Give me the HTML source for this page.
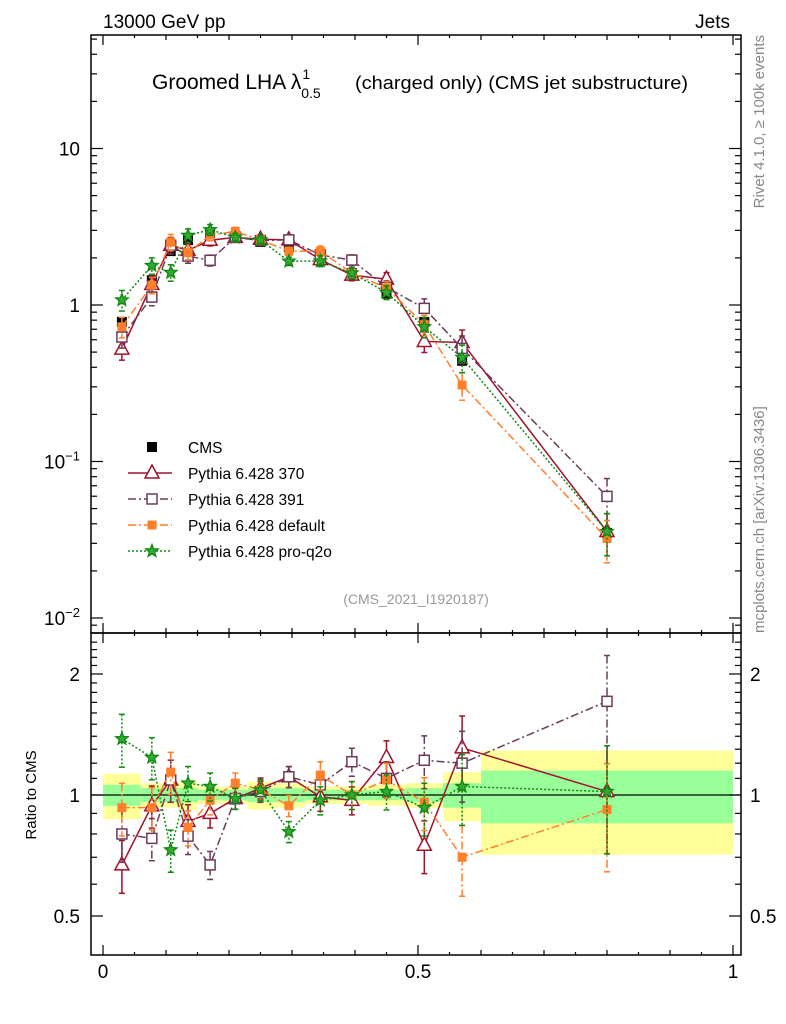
<!DOCTYPE html>
<html><head><meta charset="utf-8"><style>
body{margin:0;background:#fff;}
svg{display:block;font-family:"Liberation Sans",sans-serif;}
</style></head><body>
<svg id="c" width="786" height="1024" xmlns="http://www.w3.org/2000/svg">
<text x="103" y="28" font-size="19">13000 GeV pp</text>
<text x="730" y="28" font-size="19" text-anchor="end">Jets</text>
<text transform="translate(764,35) rotate(-90)" font-size="15" fill="#888" text-anchor="end">Rivet 4.1.0, ≥ 100k events</text>
<text transform="translate(764,633) rotate(-90)" font-size="15" fill="#888">mcplots.cern.ch [arXiv:1306.3436]</text>
<text x="152" y="89" font-size="21">Groomed LHA λ<tspan font-size="14" dy="-10" dx="1">1</tspan><tspan font-size="14" dy="19" dx="-9">0.5</tspan><tspan x="355" dy="-9" font-size="18" textLength="333" lengthAdjust="spacingAndGlyphs">(charged only) (CMS jet substructure)</tspan></text>
<text x="416" y="604" font-size="14" fill="#999" text-anchor="middle">(CMS_2021_I1920187)</text>
<text transform="translate(36,795) rotate(-90)" font-size="15" text-anchor="middle">Ratio to CMS</text>
<g id="bands"></g><g id="axes"></g><g id="marks"></g><g id="legend"></g>
</svg>
<script>
const edges=[0,0.06,0.095,0.12,0.15,0.19,0.23,0.27,0.32,0.37,0.42,0.48,0.54,0.6,1];
const xc=[0.03,0.0775,0.1075,0.135,0.17,0.21,0.25,0.295,0.345,0.395,0.45,0.51,0.57,0.8];
const cms=[0.78,1.44,2.21,2.6,2.88,2.76,2.53,2.35,1.97,1.6,1.18,0.78,0.44,0.035];
const bandY=[0.13,0.07,0.07,0.08,0.05,0.05,0.08,0.07,0.05,0.05,0.06,0.07,0.14,0.29];
const bandG=[0.06,0.04,0.04,0.04,0.03,0.03,0.04,0.04,0.03,0.03,0.03,0.04,0.07,0.15];
const r370=[0.67,0.94,1.09,0.86,0.90,0.98,1.04,1.11,0.99,0.97,1.24,0.75,1.31,1.02];
const r391=[0.80,0.78,1.09,0.79,0.67,0.98,1.02,1.11,1.06,1.21,1.10,1.22,1.20,1.71];
const rdef=[0.93,0.93,1.14,0.83,0.97,1.07,1.03,0.94,1.12,1.00,1.09,0.96,0.70,0.92];
const rq2o=[1.38,1.24,0.73,1.07,1.05,0.98,1.03,0.81,0.97,1.00,1.02,0.93,1.05,1.02];
const errM=[0.15,0.12,0.12,0.1,0.08,0.06,0.06,0.06,0.08,0.08,0.1,0.15,0.2,0.3];
const v370=cms.map((c,i)=>c*r370[i]),v391=cms.map((c,i)=>c*r391[i]),vdef=cms.map((c,i)=>c*rdef[i]),vq2o=cms.map((c,i)=>c*rq2o[i]);
const NS="http://www.w3.org/2000/svg";
const X=x=>103+630*x, Y=v=>305-156.5*Math.log10(v), R=r=>795-402*Math.log10(r);
function el(p,t,a){const e=document.createElementNS(NS,t);for(const k in a)e.setAttribute(k,a[k]);document.getElementById(p).appendChild(e);return e;}
for(let i=0;i<xc.length;i++){
 let b=el('bands','rect',{x:X(edges[i]),y:R(1+bandY[i]),width:X(edges[i+1])-X(edges[i]),height:R(1-bandY[i])-R(1+bandY[i]),fill:'#ffff99'});
 
 
 let g=el('bands','rect',{x:X(edges[i]),y:R(1+bandG[i]),width:X(edges[i+1])-X(edges[i]),height:R(1-bandG[i])-R(1+bandG[i]),fill:'#99ff99'});
 
 
}
el('axes','line',{x1:91,x2:741,y1:795,y2:795,stroke:'#000','stroke-width':1.2});
for(const [y1,y2] of [[35,633],[633,955]]){el('axes','rect',{x:91,y:y1,width:650,height:y2-y1,fill:'none',stroke:'#000','stroke-width':1.5});}
function tick(x1,y1,x2,y2){el('axes','line',{x1,y1,x2,y2,stroke:'#000','stroke-width':1.2});}
for(let d=-3;d<=1;d++)for(let m=1;m<10;m++){const v=m*Math.pow(10,d),y=Y(v);if(y<35||y>633)continue;const L=m==1?12:6;tick(91,y,91+L,y);tick(741,y,741-L,y);}
[[10,'10'],[1,'1']].forEach(([v,t])=>{let e=el('axes','text',{x:80,y:Y(v)+7,'font-size':19,'text-anchor':'end'});e.textContent=t;});
[[0.1,'−1'],[0.01,'−2']].forEach(([v,t])=>{let e=el('axes','text',{x:80,y:Y(v)+7,'font-size':19,'text-anchor':'end'});e.innerHTML='10<tspan font-size="13" dy="-8">'+t+'</tspan>';});
for(let k=5;k<=24;k++){const r=k/10,y=R(r);if(y<633)continue;const L=(k==5||k==10||k==20)?12:6;tick(91,y,91+L,y);tick(741,y,741-L,y);}
[[2,'2'],[1,'1'],[0.5,'0.5']].forEach(([r,t])=>{let e=el('axes','text',{x:80,y:R(r)+7,'font-size':19,'text-anchor':'end'});e.textContent=t;let f=el('axes','text',{x:750,y:R(r)+7,'font-size':19});f.textContent=t;});
for(let k=0;k<=20;k++){const x=X(k*0.05);const L=k%10==0?10:(k%2==0?5:3);for(const [yb,s] of [[955,-1],[633,-1],[633,1],[35,1]]){tick(x,yb,x,yb+s*L);}}
[[0,'0'],[0.5,'0.5'],[1,'1']].forEach(([v,t])=>{let e=el('axes','text',{x:X(v),y:978,'font-size':19,'text-anchor':'middle'});e.textContent=t;});
function marker(g,type,x,y,col){
 if(type=='sq')el(g,'rect',{x:x-5,y:y-5,width:10,height:10,fill:'#000'});
 else if(type=='tri')el(g,'polygon',{points:`${x},${y-8} ${x-7},${y+5} ${x+7},${y+5}`,fill:'#fff',stroke:col,'stroke-width':1.5});
 else if(type=='osq')el(g,'rect',{x:x-5,y:y-5,width:10,height:10,fill:'#fff',stroke:col,'stroke-width':1.5});
 else if(type=='fsq')el(g,'rect',{x:x-4.5,y:y-4.5,width:9,height:9,fill:col});
 else if(type=='star'){let p=[];for(let i=0;i<10;i++){const a=-Math.PI/2+i*Math.PI/5,rr=i%2?2.8:6.5;p.push((x+rr*Math.cos(a))+','+(y+rr*Math.sin(a)));}el(g,'polygon',{points:p.join(' '),fill:'#3a3',stroke:col,'stroke-width':1.3});}
}
const series=[
 {n:'cms',vals:cms,rat:cms.map(()=>1),col:'#000',mk:'sq',dash:null,err:cms.map(()=>0.04),line:false},
 {n:'pythia-370',vals:v370,rat:r370,col:'#a0112b',mk:'tri',dash:'none',err:errM},
 {n:'pythia-391',vals:v391,rat:r391,col:'#6b3a5a',mk:'osq',dash:'8,3,2,3',err:errM},
 {n:'pythia-default',vals:vdef,rat:rdef,col:'#ff7f2a',mk:'fsq',dash:'8,3,2,3',err:errM},
 {n:'pythia-pro-q2o',vals:vq2o,rat:rq2o,col:'#118811',mk:'star',dash:'2,2',err:errM}];
series.forEach(s=>{
 const g=el('marks','g',{});g.id='g-'+s.n;
 
 
 const dashed=s.dash&&s.dash!='none';
 const draw=(F,arr,isR)=>{
  if(s.line!==false){const pts=arr.map((v,i)=>X(xc[i])+','+F(v)).join(' ');const pl=el(g.id,'polyline',{points:pts,fill:'none',stroke:s.col,'stroke-width':1.5});if(dashed)pl.setAttribute('stroke-dasharray',s.dash);}
  arr.forEach((v,i)=>{if(isR&&s.n=='cms')return;const e=s.err[i];const x=X(xc[i]);const a=F(v*(1+e)),b=F(v*(1-e));const eb=el(g.id,'line',{x1:x,x2:x,y1:a,y2:b,stroke:s.col,'stroke-width':1.5});if(dashed)eb.setAttribute('stroke-dasharray',s.dash);if(s.n!='cms'){el(g.id,'line',{x1:x-3,x2:x+3,y1:a,y2:a,stroke:s.col,'stroke-width':1.5});el(g.id,'line',{x1:x-3,x2:x+3,y1:b,y2:b,stroke:s.col,'stroke-width':1.5});}
   marker(g.id,s.mk,x,F(v),s.col);});
 };
 draw(Y,s.vals,false);
 if(s.n!='cms')draw(R,s.rat,true);
});
const labels=['CMS','Pythia 6.428 370','Pythia 6.428 391','Pythia 6.428 default','Pythia 6.428 pro-q2o'];
series.forEach((s,i)=>{
 const y=447+i*26;
 const g=el('legend','g',{});g.id='lg'+i;
 
 
 if(s.n!='cms'){const l=el(g.id,'line',{x1:128,x2:172,y1:y,y2:y,stroke:s.col,'stroke-width':1.5});if(s.dash&&s.dash!='none')l.setAttribute('stroke-dasharray',s.dash);}
 marker(g.id,s.mk,152,y,s.col);
 const t=el(g.id,'text',{x:188,y:y+6,'font-size':15.5});t.textContent=labels[i];
});
</script>
</body></html>
